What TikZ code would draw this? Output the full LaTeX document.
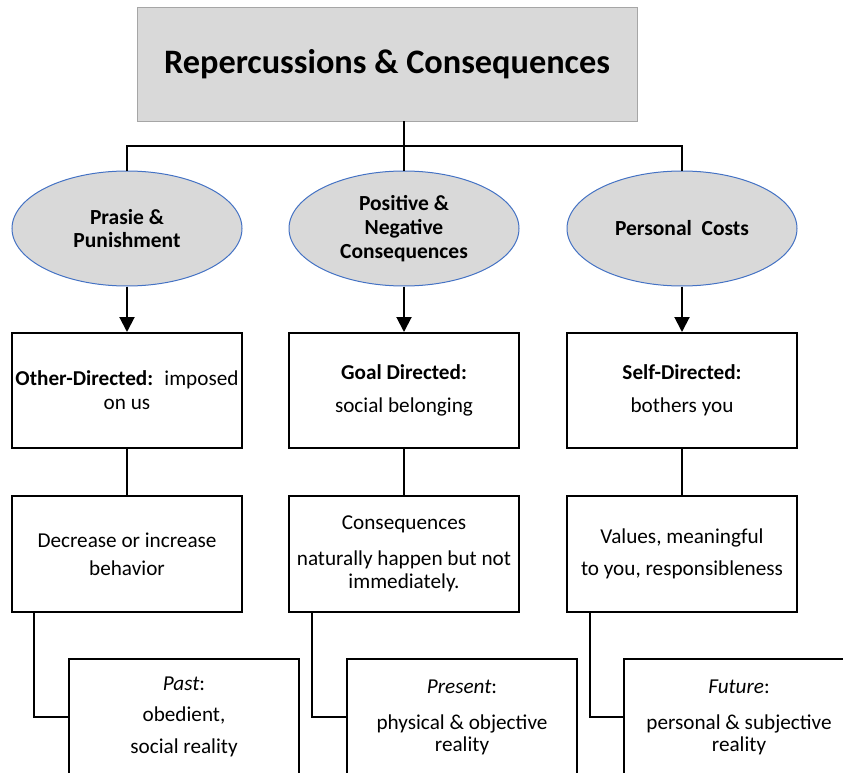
\documentclass[tikz,border=0pt]{standalone}
\usepackage{fontspec}
\setmainfont{Carlito}
\usetikzlibrary{arrows.meta,shapes.geometric}
\definecolor{boxgray}{HTML}{D9D9D9}
\definecolor{titleborder}{HTML}{A6A6A6}
\definecolor{ellborder}{HTML}{4472C4}
\begin{document}
\begin{tikzpicture}[x=1pt,y=-1pt,
  bodytext/.style={font=\fontsize{21.2}{24}\selectfont, align=center},
  ovalnode/.style={ellipse, draw=ellborder, line width=1pt, fill=boxgray,
    minimum width=230pt, minimum height=115pt, inner sep=0pt,
    font=\bfseries\fontsize{21.5}{23}\selectfont, align=center},
  boxnode/.style={rectangle, draw=black, line width=2pt,
    minimum width=230pt, minimum height=115pt, inner sep=1pt, bodytext},
  link/.style={draw=black, line width=2pt},
  arrowlink/.style={link, -{Triangle[width=15pt,length=15pt]}}]
\useasboundingbox (0,0) rectangle (843,773);
\clip (0,0) rectangle (843,773);

% title
\node[rectangle, draw=titleborder, line width=0.8pt, fill=boxgray,
  minimum width=500pt, minimum height=114pt,
  font=\bfseries\fontsize{34.3}{40}\selectfont] (top) at (387,64)
  {Repercussions \& Consequences};

% ellipses
\node[ovalnode] (e1) at (127,228.5) {Prasie \&\\Punishment};
\node[ovalnode, font=\bfseries\fontsize{21.5}{24}\selectfont] (e2) at (404,228.5) {Positive \&\\Negative\\Consequences};
\node[ovalnode] (e3) at (682,228.5) {Personal~ Costs};

\coordinate (bus) at (404,146);

% row 1
\node[boxnode] (b1) at (127,390.5) {\textbf{Other-Directed:}~ imposed\\on us};
\node[boxnode] (b2) at (404,390.5) {\textbf{Goal Directed:}\\[9pt]social belonging};
\node[boxnode] (b3) at (682,390.5) {\textbf{Self-Directed:}\\[9pt]bothers you};

% row 2
\node[boxnode, minimum height=116pt] (c1) at (127,554) {Decrease or increase\\[4pt]behavior};
\node[boxnode, minimum height=116pt] (c2) at (404,554) {Consequences\\[12pt]naturally happen but not\\[-1pt]immediately.};
\node[boxnode, minimum height=116pt] (c3) at (682,554) {Values, meaningful\\[8pt]to you, responsibleness};

% row 3 (clipped at page edge)
\node[boxnode, minimum height=116pt] (d1) at (184,717) {\textit{Past}:\\[7pt]obedient,\\[8pt]social reality};
\node[boxnode, minimum height=116pt] (d2) at (462,717) {\textit{Present}:\\[12pt]physical \& objective\\[-2pt]reality};
\node[boxnode, minimum height=116pt] (d3) at (739,717) {\textit{Future}:\\[12pt]personal \& subjective\\[-2pt]reality};

% connectors
\draw[link] (top.south -| bus) -- (e2.north);
\draw[link] (e1.north) |- (bus) -| (e3.north);
\draw[arrowlink] (e1.south) -- (b1.north);
\draw[arrowlink] (e2.south) -- (b2.north);
\draw[arrowlink] (e3.south) -- (b3.north);
\draw[link] (b1.south) -- (c1.north);
\draw[link] (b2.south) -- (c2.north);
\draw[link] (b3.south) -- (c3.north);
\draw[link] ([xshift=23pt]c1.south west) |- (d1.west);
\draw[link] ([xshift=24pt]c2.south west) |- (d2.west);
\draw[link] ([xshift=24pt]c3.south west) |- (d3.west);
\end{tikzpicture}
\end{document}
